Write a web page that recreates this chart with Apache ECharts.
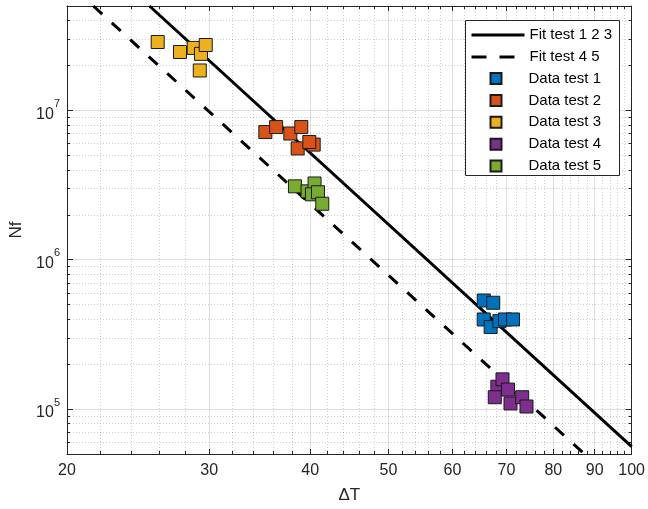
<!DOCTYPE html>
<html>
<head>
<meta charset="utf-8">
<script src="https://cdn.jsdelivr.net/npm/echarts@6/dist/echarts.min.js"></script>
<style>
html,body{margin:0;padding:0;background:#fff;}
#c{width:648px;height:509px;}
</style>
</head>
<body>
<div id="c"></div>
<script>
// ---- data ----
const fit123 = [[25.3, 5.0e7], [100, 5.61e4]];
const fit45 = [[21.56, 5.0e7], [87.4, 5.0e4]];
const test1 = [[65.6, 5.33e5], [67.4, 5.15e5], [65.6, 3.98e5], [66.9, 3.54e5], [68.6, 3.88e5], [69.7, 3.98e5], [71.3, 3.98e5]];
const test2 = [[35.2, 7.16e6], [36.3, 7.73e6], [37.8, 7.0e6], [39.0, 7.73e6], [38.6, 5.56e6], [40.4, 5.9e6], [39.9, 6.14e6]];
const test3 = [[25.9, 2.87e7], [27.6, 2.46e7], [28.7, 2.62e7], [29.3, 2.39e7], [29.7, 2.74e7], [29.2, 1.85e7]];
const test4 = [[68.2, 1.41e5], [69.2, 1.58e5], [70.3, 1.35e5], [67.7, 1.20e5], [70.8, 1.09e5], [73.2, 1.20e5], [74.1, 1.04e5]];
const test5 = [[38.3, 3.10e6], [39.7, 2.87e6], [40.5, 3.24e6], [40.2, 2.74e6], [40.9, 2.83e6], [41.4, 2.37e6]];

const xMajorTicks = [20, 30, 40, 50, 60, 70, 80, 90, 100];
const xMinorTicks = [22, 24, 26, 28, 32, 34, 36, 38, 42, 44, 46, 48, 52, 54, 56, 58, 62, 64, 66, 68, 72, 74, 76, 78, 82, 84, 86, 88, 92, 94, 96, 98];
const yMajorTicks = [1e5, 1e6, 1e7];
const yMinorTicks = [5e4, 6e4, 7e4, 8e4, 9e4, 2e5, 3e5, 4e5, 5e5, 6e5, 7e5, 8e5, 9e5, 2e6, 3e6, 4e6, 5e6, 6e6, 7e6, 8e6, 9e6, 2e7, 3e7, 4e7];

const seriesNames = ['Fit test 1 2 3', 'Fit test 4 5', 'Data test 1', 'Data test 2', 'Data test 3', 'Data test 4', 'Data test 5'];
const colors = ['#0072BD', '#D95319', '#EDB120', '#7E2F8E', '#77AC30'];

const AX = '#262626';
const FONT = '"Liberation Sans", Arial, Helvetica, sans-serif';
const majorGrid = 'rgba(38,38,38,0.15)';
const minorGrid = 'rgba(38,38,38,0.22)';

function xAxisDef(pos, isMajor, showLine, showLabel) {
  return {
    type: 'log', logBase: 10, min: 20, max: 100, position: pos,
    axisLine: { show: showLine, onZero: false, lineStyle: { color: AX, width: 1 } },
    axisTick: { show: true, inside: true, length: isMajor ? 5 : 3, lineStyle: { color: AX, width: 1 },
      customValues: isMajor ? xMajorTicks : xMinorTicks },
    axisLabel: { show: showLabel, customValues: xMajorTicks, color: AX, fontSize: 16, fontFamily: FONT, margin: 9 },
    splitLine: { show: pos === 'bottom', lineStyle: isMajor ? { color: majorGrid, width: 1 } : { color: minorGrid, width: 1, type: [1, 2] } },
    minorTick: { show: false }, minorSplitLine: { show: false }
  };
}
function yAxisDef(pos, isMajor, showLine, showLabel) {
  return {
    type: 'log', logBase: 10, min: 5e4, max: 5e7, position: pos,
    axisLine: { show: showLine, onZero: false, lineStyle: { color: AX, width: 1 } },
    axisTick: { show: true, inside: true, length: isMajor ? 6 : 3, lineStyle: { color: AX, width: 1 },
      customValues: isMajor ? yMajorTicks : yMinorTicks },
    axisLabel: {
      show: showLabel, customValues: yMajorTicks, margin: 7,
      formatter: function (v) { return '{b|10}{s|' + Math.round(Math.log10(v)) + '}'; },
      rich: {
        b: { fontSize: 16, color: AX, fontFamily: FONT, lineHeight: 24, verticalAlign: 'bottom' },
        s: { fontSize: 11, color: AX, fontFamily: FONT, lineHeight: 24, verticalAlign: 'top' }
      }
    },
    splitLine: { show: pos === 'left', lineStyle: isMajor ? { color: majorGrid, width: 1 } : { color: minorGrid, width: 1, type: [1, 2] } },
    minorTick: { show: false }, minorSplitLine: { show: false }
  };
}

const xAxes = [
  Object.assign(xAxisDef('bottom', true, true, true), { name: 'ΔT', nameLocation: 'middle', nameGap: 33,
    nameTextStyle: { color: AX, fontSize: 17, fontFamily: FONT } }),
  xAxisDef('bottom', false, false, false),
  xAxisDef('top', true, true, false),
  xAxisDef('top', false, false, false)
];
const yAxes = [
  Object.assign(yAxisDef('left', true, true, true), { name: 'Nf', nameLocation: 'middle', nameGap: 37,
    nameTextStyle: { color: AX, fontSize: 17, fontFamily: FONT } }),
  yAxisDef('left', false, false, false),
  yAxisDef('right', true, true, false),
  yAxisDef('right', false, false, false)
];

const dataSets = [test1, test2, test3, test4, test5];
const series = [
  { name: seriesNames[0], type: 'line', data: fit123, symbol: 'none', xAxisIndex: 0, yAxisIndex: 0,
    lineStyle: { color: '#000', width: 3, type: 'solid' }, itemStyle: { color: '#000' }, z: 2, animation: false },
  { name: seriesNames[1], type: 'line', data: fit45, symbol: 'none', xAxisIndex: 0, yAxisIndex: 0,
    lineStyle: { color: '#000', width: 3, type: [12, 13] }, itemStyle: { color: '#000' }, z: 2, animation: false }
];
dataSets.forEach(function (d, i) {
  series.push({
    name: seriesNames[i + 2], type: 'scatter', data: d, symbol: 'rect', symbolSize: 13,
    xAxisIndex: 0, yAxisIndex: 0, z: 3, animation: false,
    itemStyle: { color: colors[i], borderColor: '#1a1a1a', borderWidth: 1, opacity: 1 }
  });
});

const chart = echarts.init(document.getElementById('c'), null, { renderer: 'canvas' });
chart.setOption({
  backgroundColor: '#fff',
  animation: false,
  grid: { left: 67, right: 16, top: 6, bottom: 53, containLabel: false },
  xAxis: xAxes,
  yAxis: yAxes,
  graphic: [{
    type: 'rect', z: 5, silent: true,
    shape: { x: 465.5, y: 20.5, width: 154, height: 155 },
    style: { fill: '#fff', stroke: AX, lineWidth: 1 }
  }],
  legend: [
    {
      data: [
        { name: seriesNames[0] },
        { name: seriesNames[1], lineStyle: { type: [15, 13] } }
      ],
      orient: 'vertical', left: 470, top: 27.5, padding: 0,
      itemWidth: 53, itemHeight: 14, itemGap: 6.9, z: 6,
      itemStyle: { opacity: 0 },
      lineStyle: { width: 3 },
      textStyle: { color: '#000', fontSize: 15, fontFamily: FONT },
      selectedMode: false
    },
    {
      data: seriesNames.slice(2), orient: 'vertical', left: 489.5, top: 71, padding: 0,
      itemWidth: 11, itemHeight: 11, itemGap: 6.9, z: 6,
      textStyle: { color: '#000', fontSize: 15, fontFamily: FONT, padding: [0, 0, 0, 22] },
      selectedMode: false
    }
  ],
  series: series
});
</script>
</body>
</html>
